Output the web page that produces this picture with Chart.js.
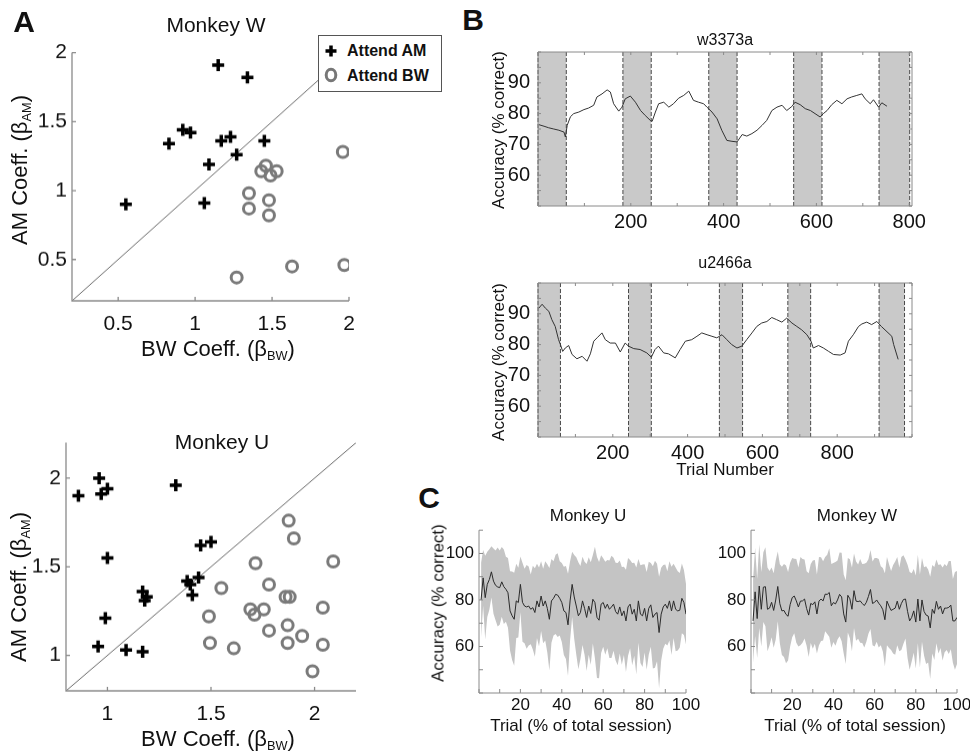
<!DOCTYPE html>
<html>
<head>
<meta charset="utf-8">
<script src="https://cdn.jsdelivr.net/npm/chart.js@4.4.1/dist/chart.umd.min.js"></script>
<style>
  html, body { margin: 0; padding: 0; background: #fff; overflow: hidden; }
  #fig { position: relative; width: 970px; height: 755px; overflow: hidden;
         font-family: "Liberation Sans", Arial, Helvetica, sans-serif; color: #111; }
  canvas { position: absolute; }
  .t { position: absolute; white-space: nowrap; line-height: 1; transform: translate(-50%, -50%); }
  .v { transform: translate(-50%, -50%) rotate(-90deg); }
  .t sub { font-size: 58%; vertical-align: -0.3em; }
  .letter { font-weight: bold; font-size: 30px; }
  #legend { position: absolute; left: 318px; top: 35px; width: 122px; height: 55px;
            border: 1px solid #555; background: #fff; font-weight: bold; font-size: 16px; }
  #legend div { position: absolute; left: 28px; }
  #legend svg { position: absolute; left: 4px; }
</style>
</head>
<body>
<div id="fig">
  <canvas id="aTop"></canvas>
  <canvas id="aBot"></canvas>
  <canvas id="bTop"></canvas>
  <canvas id="bBot"></canvas>
  <canvas id="cLeft"></canvas>
  <canvas id="cRight"></canvas>

  <div class="t letter" style="left:24px;top:22px">A</div>
  <div class="t letter" style="left:473px;top:20px">B</div>
  <div class="t letter" style="left:429px;top:498px">C</div>

  <div class="t" style="left:216px;top:24px;font-size:21px">Monkey W</div>
  <div class="t v" style="left:21px;top:170px;font-size:22px">AM Coeff. (β<sub>AM</sub>)</div>
  <div class="t" style="left:218px;top:350px;font-size:22px">BW Coeff. (β<sub>BW</sub>)</div>

  <div class="t" style="left:222px;top:441px;font-size:21px">Monkey U</div>
  <div class="t v" style="left:20px;top:587px;font-size:22px">AM Coeff. (β<sub>AM</sub>)</div>
  <div class="t" style="left:218px;top:740px;font-size:22px">BW Coeff. (β<sub>BW</sub>)</div>

  <div id="legend">
    <svg width="16" height="16" style="top:7px"><path d="M8 2.5V13.5M2.5 8H13.5" stroke="#000" stroke-width="3.5"/></svg>
    <div style="top:6px">Attend AM</div>
    <svg width="16" height="18" style="top:30px"><ellipse cx="8" cy="9" rx="4.8" ry="5.8" fill="none" stroke="#777" stroke-width="3"/></svg>
    <div style="top:31px">Attend BW</div>
  </div>

  <div class="t" style="left:725px;top:40px;font-size:16px">w3373a</div>
  <div class="t v" style="left:498px;top:130px;font-size:17px">Accuracy (% correct)</div>
  <div class="t" style="left:725px;top:263px;font-size:16px">u2466a</div>
  <div class="t v" style="left:498px;top:362px;font-size:17px">Accuracy (% correct)</div>
  <div class="t" style="left:725px;top:469px;font-size:17px">Trial Number</div>

  <div class="t" style="left:588px;top:515px;font-size:17px">Monkey U</div>
  <div class="t" style="left:857px;top:515px;font-size:17px">Monkey W</div>
  <div class="t v" style="left:438px;top:603px;font-size:17px">Accuracy (% correct)</div>
  <div class="t" style="left:581px;top:725px;font-size:17px">Trial (% of total session)</div>
  <div class="t" style="left:855px;top:725px;font-size:17px">Trial (% of total session)</div>
</div>

<script>
// ---- panel A: regression coefficients, [BW coeff, AM coeff]
const wAttendAM = [[0.55,0.90],[0.83,1.34],[0.92,1.44],[0.97,1.42],[1.15,1.91],[1.34,1.82],
  [1.17,1.36],[1.23,1.39],[1.09,1.19],[1.27,1.26],[1.06,0.91],[1.45,1.36]];
const wAttendBW = [[1.96,1.28],[1.97,0.46],[1.63,0.45],[1.27,0.37],[1.35,0.98],[1.35,0.87],
  [1.48,0.93],[1.48,0.82],[1.43,1.14],[1.46,1.18],[1.49,1.11],[1.53,1.14]];
const uAttendAM = [[0.86,1.90],[0.96,2.00],[0.97,1.91],[1.00,1.94],[1.33,1.96],[1.00,1.55],
  [0.99,1.21],[0.955,1.05],[1.09,1.03],[1.17,1.02],[1.45,1.62],[1.50,1.64],[1.385,1.42],
  [1.44,1.44],[1.41,1.34],[1.17,1.36],[1.19,1.33],[1.18,1.31],[1.40,1.40]];
const uAttendBW = [[1.875,1.76],[1.90,1.66],[1.715,1.52],[2.09,1.53],[1.55,1.38],[1.78,1.40],
  [1.49,1.22],[1.495,1.07],[1.61,1.04],[1.69,1.26],[1.71,1.23],[1.755,1.26],[1.78,1.14],
  [1.86,1.33],[1.88,1.33],[1.87,1.17],[1.87,1.07],[1.94,1.11],[2.04,1.27],[2.04,1.06],[1.99,0.91]];
const wCoeffTicks = [0.5, 1, 1.5, 2];
const uCoeffTicks = [1, 1.5, 2];

// ---- panel B: running accuracy over a session
const wTrial = [2,13,23,34,45,56,59,63,70,77,88,99,109,120,127,138,149,156,163,174,
  181,188,199,210,221,231,242,246,253,260,271,282,292,303,314,325,335,346,357,364,
  375,386,396,407,418,429,440,450,461,472,483,493,504,515,526,536,547,554,565,576,
  587,597,608,615,623,633,644,655,666,676,687,698,705,716,723,734,741,752];
const wAcc = [76.4,75.9,75.4,75.0,74.6,74.0,72.4,76.2,79.0,80.0,80.5,81.3,81.8,82.7,85.4,86.4,87.7,87.0,83.2,80.8,
  82.1,84.8,85.7,83.7,81.0,79.4,77.8,77.5,80.5,83.2,83.7,82.1,83.2,85.0,85.9,87.3,84.3,83.7,83.2,82.1,
  80.5,78.3,74.6,71.3,71.0,70.8,73.2,72.7,73.5,74.6,76.2,77.8,81.0,82.1,82.7,81.0,82.3,83.7,82.9,81.6,
  81.0,80.0,78.9,80.0,81.0,82.9,84.3,83.2,84.8,85.4,85.9,86.4,84.8,83.2,84.5,82.1,83.5,82.4];
const wBlocks = [[0,61],[183,244],[368,429],[551,612],[735,801]];

const uTrial = [2,11,20,29,37,46,55,60,66,73,82,91,104,118,131,140,149,158,171,180,
  193,207,220,233,242,256,273,291,303,313,322,336,349,367,380,394,411,425,438,452,
  465,478,492,505,518,532,545,558,572,585,598,612,625,638,652,665,679,692,705,719,
  730,736,750,763,777,790,808,821,830,843,857,866,879,892,906,918,946,951,963];
const uAcc = [91.8,93.1,91.8,90.8,88.1,85.9,81.6,80.0,77.8,78.9,79.7,76.8,75.4,76.2,74.6,77.0,81.1,82.2,83.8,81.6,
  80.5,80.5,77.6,80.5,79.5,78.7,78.4,77.3,75.9,78.4,79.5,77.3,77.0,75.7,78.4,81.1,81.6,82.7,83.8,83.2,
  82.7,82.2,83.2,81.6,80.0,78.9,79.5,81.6,83.8,85.9,87.0,87.5,88.8,88.1,87.3,88.6,87.0,85.9,84.8,83.2,
  81.1,78.9,79.7,78.9,77.8,76.8,76.6,77.3,81.1,83.2,85.9,86.7,87.3,86.5,87.5,85.9,82.7,80.0,75.2];
const uBlocks = [[0,60],[242,303],[485,547],[668,729],[912,980]];

const wTrialTicks = [0,100,200,300,400,500,600,700,800];
const uTrialTicks = [0,100,200,300,400,500,600,700,800,900,1000];
const trialLabels = [200,400,600,800];
const accTicks = [50,55,60,65,70,75,80,85,90,95,100];
const accLabels = [60,70,80,90];

// ---- panel C: mean accuracy (and SD) across sessions, per % of session
const pctTrial = [1,2,3,4,5,6,7,8,9,10,11,12,13,14,15,16,17,18,19,20,21,22,23,24,25,26,27,28,29,30,
  31,32,33,34,35,36,37,38,39,40,41,42,43,44,45,46,47,48,49,50,51,52,53,54,55,56,57,58,59,60,
  61,62,63,64,65,66,67,68,69,70,71,72,73,74,75,76,77,78,79,80,81,82,83,84,85,86,87,88,89,90,
  91,92,93,94,95,96,97,98,99,100];
const uMean = [80,89.5,81,86.7,88.8,92.1,88.1,86.3,85.6,85.3,87.8,85.7,84.6,83.1,75.3,73.2,71.7,79.6,78.9,86.7,
  79,77.4,77,77.4,76,76.7,74.6,79.6,77,81.7,77.4,79.6,76.4,71.7,79.6,80.7,82.4,82.1,80.7,78.9,
  75.3,74.6,69.3,79.6,86.7,81.3,77.4,73.2,74.6,79.6,76.4,72.5,77.4,74.2,80.3,78.9,72.5,71.3,78.2,78.9,
  76.4,78.2,76,77,78.2,75,73.9,77,73.2,75.3,71,77,78.2,73.9,76,71,79.6,73.9,73.2,76.4,
  71,76.4,77.9,72.5,73.9,74.6,66,73.9,77,78.2,76.4,79.6,75.3,79.6,76,75.3,75.6,80.7,78.9,73.9];
const uSd = [16,12,18,14,13,11,14,15,17,16,15,16,14,15,17,19,20,16,15,12,
  17,16,18,17,15,18,19,16,17,15,16,17,19,22,18,16,17,18,16,17,
  19,20,22,17,14,18,21,23,20,19,20,23,21,22,19,24,26,25,21,19,
  20,19,21,22,20,21,22,20,21,19,22,21,19,22,20,23,18,21,22,19,
  21,20,18,22,23,21,24,20,18,17,16,17,19,16,18,17,16,15,14,13];
const wMean = [71,83.5,72,86,76,85.5,85.7,76,76.5,79,75.5,80,85.8,78.4,75.3,75.5,73.8,73,78,81,
  81.7,79.6,77,79.5,79.6,80.4,76.3,73.5,78.5,78,79.2,74,79.5,80.4,79.6,82.5,82.4,83.2,77.5,78.9,
  78.3,80,82.4,81.3,74,70.5,82,80.5,76,84,79.5,79.3,79.6,78.5,77.6,79,81.5,84.5,78.5,79,
  80,78.6,77.5,75.8,71.5,79.5,77.4,75.5,76,76.5,79.5,76,78.5,80.2,80.4,75.1,71,72.5,75.3,70.5,
  80.4,71,80,75.1,73.5,73.1,68,76,74.2,79.4,76,77.4,74,76.5,76.5,76.8,77.8,71,71,72.5];
const wSd = [18,19,17,18,16,15,17,18,16,15,16,17,15,17,19,20,21,19,18,17,
  16,18,17,19,18,17,16,18,17,19,18,17,19,18,17,16,17,19,18,17,
  18,17,18,19,17,18,16,17,18,16,17,16,18,17,18,17,16,17,18,19,
  18,19,17,18,20,19,18,17,19,20,19,18,20,19,17,20,21,19,18,20,
  19,20,18,19,21,20,22,19,20,18,19,18,20,19,18,20,19,18,21,20];
const pctTicks = [0,10,20,30,40,50,60,70,80,90,100];
const pctLabels = [20,40,60,80,100];
const cAccTicks = [40,50,60,70,80,90,100,110];
const cAccLabels = [60,80,100];

Chart.defaults.font.family = '"Liberation Sans", Arial, Helvetica, sans-serif';
Chart.defaults.color = '#111';

// matlab-ish axes: inward ticks, optional box, shaded attend blocks
const frame = {
  id: 'frame',
  beforeDatasetsDraw(chart, args, opts) {
    if (!opts.blocks) return;
    const { ctx, chartArea: a } = chart;
    const x = chart.scales.x;
    ctx.save();
    opts.blocks.forEach(([s, e]) => {
      const x0 = x.getPixelForValue(s), x1 = x.getPixelForValue(e);
      ctx.fillStyle = '#c9c9c9';
      ctx.fillRect(x0, a.top, x1 - x0, a.bottom - a.top);
      ctx.strokeStyle = '#4a4a4a';
      ctx.lineWidth = 1;
      ctx.setLineDash([4, 2]);
      [x0, x1].forEach(px => {
        ctx.beginPath();
        ctx.moveTo(px, a.top);
        ctx.lineTo(px, a.bottom);
        ctx.stroke();
      });
    });
    ctx.restore();
  },
  afterDatasetsDraw(chart, args, opts) {
    const { ctx, chartArea: a } = chart;
    const { x, y } = chart.scales;
    const len = opts.tick || 4;
    ctx.save();
    ctx.strokeStyle = opts.color || '#808080';
    ctx.lineWidth = opts.width || 1;
    ctx.beginPath();
    ctx.moveTo(a.left, a.top);
    ctx.lineTo(a.left, a.bottom);
    ctx.lineTo(a.right, a.bottom);
    if (opts.box) {
      ctx.lineTo(a.right, a.top);
      ctx.lineTo(a.left, a.top);
    }
    x.ticks.forEach(t => {
      const p = x.getPixelForValue(t.value);
      ctx.moveTo(p, a.bottom); ctx.lineTo(p, a.bottom - len);
      if (opts.box) { ctx.moveTo(p, a.top); ctx.lineTo(p, a.top + len); }
    });
    y.ticks.forEach(t => {
      const p = y.getPixelForValue(t.value);
      ctx.moveTo(a.left, p); ctx.lineTo(a.left + len, p);
      if (opts.box) { ctx.moveTo(a.right, p); ctx.lineTo(a.right - len, p); }
    });
    ctx.stroke();
    ctx.restore();
  }
};

function linAxis(min, max, tickVals, labelVals, fontSize, pad, fit) {
  return {
    type: 'linear', min, max,
    grid: { display: false, drawTicks: false },
    border: { display: false },
    afterBuildTicks: s => { s.ticks = tickVals.map(v => ({ value: v })); },
    afterFit: s => { if (s.isHorizontal()) s.height = fit; else s.width = fit; },
    ticks: {
      autoSkip: false, maxRotation: 0, padding: pad, color: '#111',
      font: { size: fontSize },
      callback: v => labelVals.includes(v) ? String(v) : ''
    }
  };
}

// draw once, measure the plot area, then redraw so it lands exactly on `plot`
function makeChart(id, plot, yW, xH, config) {
  const cv = document.getElementById(id);
  let w = yW + (plot.r - plot.l) + 22;
  let h = 12 + (plot.b - plot.t) + xH;
  const size = () => {
    cv.width = w; cv.height = h;
    cv.style.width = w + 'px'; cv.style.height = h + 'px';
  };
  size();
  let chart = new Chart(cv, config());
  const a = chart.chartArea;
  w += (plot.r - plot.l) - (a.right - a.left);
  h += (plot.b - plot.t) - (a.bottom - a.top);
  chart.destroy();
  size();
  chart = new Chart(cv, config());
  const b = chart.chartArea;
  cv.style.left = (plot.l - b.left) + 'px';
  cv.style.top = (plot.t - b.top) + 'px';
  return chart;
}

const pts = arr => arr.map(([x, y]) => ({ x, y }));
const xy = (xs, ys) => xs.map((x, i) => ({ x, y: ys[i] }));

function baseOptions(frameOpts, scales) {
  return {
    responsive: false, maintainAspectRatio: false, animation: false, devicePixelRatio: 1,
    layout: { padding: { top: 12, right: 22, left: 0, bottom: 0 } },
    plugins: { legend: { display: false }, tooltip: { enabled: false }, frame: frameOpts },
    scales
  };
}

function scatterChart(id, plot, lo, hi, ticks, am, bw) {
  makeChart(id, plot, 55, 40, () => ({
    type: 'scatter',
    data: {
      datasets: [
        { data: pts(am), pointStyle: 'cross', pointRadius: 6, borderColor: '#000', borderWidth: 3.5 },
        { data: pts(bw), pointStyle: 'circle', pointRadius: 5.5, borderColor: '#7a7a7a',
          backgroundColor: 'rgba(0,0,0,0)', borderWidth: 3 },
        { type: 'line', data: [{ x: lo, y: lo }, { x: hi, y: hi }], borderColor: '#6a6a6a',
          borderWidth: 1, pointRadius: 0 }
      ]
    },
    options: baseOptions({ box: false, tick: 4, color: '#8a8a8a', width: 1.3 }, {
      x: linAxis(lo, hi, ticks, ticks, 21, 11, 40),
      y: linAxis(lo, hi, ticks, ticks, 21, 5, 55)
    }),
    plugins: [frame]
  }));
}

function sessionChart(id, plot, xmax, trials, acc, blocks, xTicks) {
  makeChart(id, plot, 46, 30, () => ({
    type: 'line',
    data: {
      datasets: [{ data: xy(trials, acc), borderColor: '#333', borderWidth: 1, pointRadius: 0, tension: 0 }]
    },
    options: baseOptions({ box: true, tick: 3, color: '#8a8a8a', blocks }, {
      x: linAxis(0, xmax, xTicks, trialLabels, 20, 4, 30),
      y: linAxis(50, 100, accTicks, accLabels, 20, 8, 46)
    }),
    plugins: [frame]
  }));
}

function meanChart(id, plot, mean, sd) {
  const upper = mean.map((m, i) => m + sd[i]);
  const lower = mean.map((m, i) => m - sd[i]);
  makeChart(id, plot, 40, 28, () => ({
    type: 'line',
    data: {
      datasets: [
        { data: xy(pctTrial, mean), borderColor: '#2a2a2a', borderWidth: 1, pointRadius: 0, tension: 0 },
        { data: xy(pctTrial, upper), borderWidth: 0, pointRadius: 0, fill: '+1',
          backgroundColor: '#c4c4c4', tension: 0 },
        { data: xy(pctTrial, lower), borderWidth: 0, pointRadius: 0, tension: 0 }
      ]
    },
    options: baseOptions({ box: false, tick: 4, color: '#8a8a8a' }, {
      x: linAxis(0, 100, pctTicks, pctLabels, 17, 2, 28),
      y: linAxis(40, 110, cAccTicks, cAccLabels, 17, 5, 40)
    }),
    plugins: [frame]
  }));
}

scatterChart('aTop', { l: 72, t: 53, r: 349, b: 301 }, 0.2, 2.0, wCoeffTicks, wAttendAM, wAttendBW);
scatterChart('aBot', { l: 66, t: 443, r: 356, b: 691 }, 0.8, 2.2, uCoeffTicks, uAttendAM, uAttendBW);
sessionChart('bTop', { l: 538, t: 52, r: 912, b: 206 }, 806, wTrial, wAcc, wBlocks, wTrialTicks);
sessionChart('bBot', { l: 538, t: 283, r: 912, b: 437 }, 1000, uTrial, uAcc, uBlocks, uTrialTicks);
meanChart('cLeft', { l: 479, t: 530, r: 686, b: 693 }, uMean, uSd);
meanChart('cRight', { l: 751, t: 530, r: 957, b: 693 }, wMean, wSd);
</script>
</body>
</html>
